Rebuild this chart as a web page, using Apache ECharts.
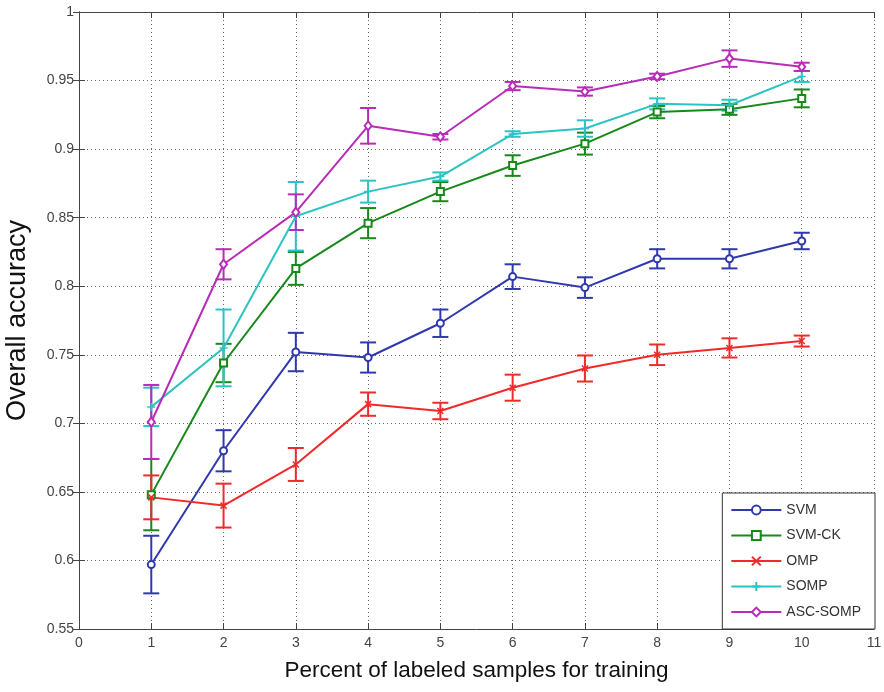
<!DOCTYPE html>
<html>
<head>
<meta charset="utf-8">
<script src="https://cdn.jsdelivr.net/npm/echarts@6/dist/echarts.min.js"></script>
<style>
  html, body { margin: 0; padding: 0; background: #fff; }
  #chart { width: 884px; height: 692px; }
</style>
</head>
<body>
<div id="chart"></div>
<script>
const xs = [1, 2, 3, 4, 5, 6, 7, 8, 9, 10]

const svm = [0.597, 0.680, 0.752, 0.748, 0.773, 0.807, 0.799, 0.820, 0.820, 0.833]
const svmErr = [0.021, 0.015, 0.014, 0.011, 0.010, 0.009, 0.0075, 0.007, 0.007, 0.006]

const svmCk = [0.648, 0.744, 0.813, 0.846, 0.869, 0.888, 0.904, 0.927, 0.929, 0.937]
const svmCkErr = [0.026, 0.014, 0.012, 0.011, 0.007, 0.0075, 0.008, 0.0045, 0.004, 0.0065]

const omp = [0.646, 0.640, 0.670, 0.714, 0.709, 0.726, 0.740, 0.750, 0.755, 0.760]
const ompErr = [0.016, 0.016, 0.012, 0.0085, 0.006, 0.0095, 0.0095, 0.0075, 0.007, 0.004]

const somp = [0.712, 0.755, 0.851, 0.869, 0.880, 0.911, 0.915, 0.933, 0.932, 0.953]
const sompErr = [0.014, 0.028, 0.025, 0.008, 0.003, 0.002, 0.006, 0.004, 0.004, 0.004]

const ascSomp = [0.701, 0.816, 0.854, 0.917, 0.909, 0.946, 0.942, 0.953, 0.966, 0.960]
const ascSompErr = [0.027, 0.011, 0.013, 0.013, 0.002, 0.003, 0.003, 0.002, 0.006, 0.003]

const names = ['SVM', 'SVM-CK', 'OMP', 'SOMP', 'ASC-SOMP']
const colors = ['#3038ae', '#17891a', '#f02a2a', '#2cc3c3', '#b82cb8']
const symbols = [
  'emptyCircle',
  'emptyRect',
  'path://M0,0L10,10M10,0L0,10',
  'path://M5,0L5,10M0,5L10,5',
  'emptyDiamond'
]
const symSizes = [7, 7, 6, 8, [7, 9]]
const means = [svm, svmCk, omp, somp, ascSomp]
const errs = [svmErr, svmCkErr, ompErr, sompErr, ascSompErr]

const font = 'Liberation Sans, Arial, sans-serif'

const lineSeries = names.map((n, i) => ({
  name: n,
  type: 'line',
  data: xs.map((x, j) => [x, means[i][j]]),
  color: colors[i],
  symbol: symbols[i],
  symbolSize: symSizes[i],
  showAllSymbol: true,
  lineStyle: { width: 2, color: colors[i] },
  itemStyle: { color: colors[i], borderColor: colors[i], borderWidth: 1.5 },
  z: 3
}))

// error bars: vertical whisker with caps
const errSeries = names.map((n, i) => ({
  name: n + '-err',
  type: 'custom',
  data: xs.map((x, j) => [x, means[i][j] - errs[i][j], means[i][j] + errs[i][j]]),
  encode: { x: 0, y: [1, 2] },
  z: 2,
  renderItem: (params, api) => {
    const x = api.value(0)
    const lo = api.coord([x, api.value(1)])
    const hi = api.coord([x, api.value(2)])
    const w = 8
    const st = { stroke: colors[i], lineWidth: 2 }
    return {
      type: 'group',
      children: [
        { type: 'line', shape: { x1: lo[0], y1: lo[1], x2: hi[0], y2: hi[1] }, style: st },
        { type: 'line', shape: { x1: lo[0] - w, y1: lo[1], x2: lo[0] + w, y2: lo[1] }, style: st },
        { type: 'line', shape: { x1: hi[0] - w, y1: hi[1], x2: hi[0] + w, y2: hi[1] }, style: st }
      ]
    }
  }
}))

const fmt = v => String(parseFloat(v.toFixed(2)))

const option = {
  animation: false,
  backgroundColor: '#fff',
  grid: { left: 79, right: 10, top: 12, bottom: 63, outerBoundsMode: 'none', containLabel: false },
  legend: {
    data: names,
    orient: 'vertical',
    right: 9,
    bottom: 63,
    width: 140,
    padding: [10, 14, 10, 8],
    itemWidth: 50,
    itemHeight: 11,
    itemGap: 11.5,
    backgroundColor: '#fff',
    borderColor: '#333',
    borderWidth: 1,
    borderRadius: 0,
    textStyle: { fontFamily: font, fontSize: 14, color: '#333' }
  },
  xAxis: [
    {
      type: 'value',
      min: 0,
      max: 11,
      interval: 1,
      name: 'Percent of labeled samples for training',
      nameLocation: 'middle',
      nameGap: 30,
      nameTextStyle: { fontFamily: font, fontSize: 22.5, color: '#111' },
      axisLine: { show: true, lineStyle: { color: '#444', width: 1 } },
      axisTick: { show: true, inside: true, length: 6, lineStyle: { color: '#444' } },
      axisLabel: { fontFamily: font, fontSize: 14, color: '#444', margin: 7 },
      splitLine: { show: true, lineStyle: { color: '#666', type: [1, 3], width: 1 } }
    },
    {
      type: 'value',
      position: 'top',
      min: 0,
      max: 11,
      interval: 1,
      axisLine: { show: true, lineStyle: { color: '#444', width: 1 } },
      axisTick: { show: true, inside: true, length: 6, lineStyle: { color: '#444' } },
      axisLabel: { show: false },
      splitLine: { show: false }
    }
  ],
  yAxis: [
    {
      type: 'value',
      min: 0.55,
      max: 1,
      interval: 0.05,
      name: 'Overall accuracy',
      nameLocation: 'middle',
      nameGap: 48,
      nameTextStyle: { fontFamily: font, fontSize: 27, color: '#111' },
      axisLine: { show: true, lineStyle: { color: '#444', width: 1 } },
      axisTick: { show: true, inside: true, length: 6, lineStyle: { color: '#444' } },
      axisLabel: { fontFamily: font, fontSize: 14, color: '#444', margin: 5, formatter: fmt },
      splitLine: { show: true, lineStyle: { color: '#666', type: [1, 3], width: 1 } }
    },
    {
      type: 'value',
      position: 'right',
      min: 0.55,
      max: 1,
      interval: 0.05,
      axisLine: { show: true, lineStyle: { color: '#444', width: 1 } },
      axisTick: { show: true, inside: true, length: 6, lineStyle: { color: '#444' } },
      axisLabel: { show: false },
      splitLine: { show: false }
    }
  ],
  series: [...errSeries, ...lineSeries]
}

const chartDom = document.getElementById('chart')
const myChart = echarts.init(chartDom)
option && myChart.setOption(option)
</script>
</body>
</html>
